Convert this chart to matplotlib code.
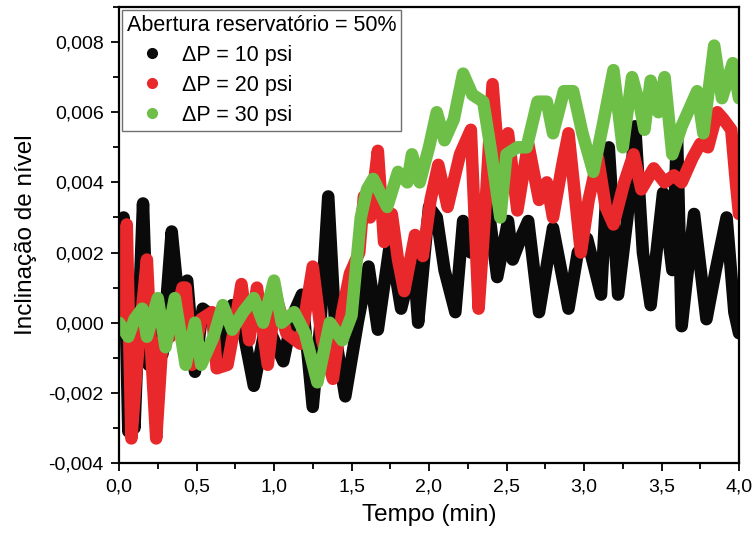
import matplotlib
matplotlib.use("Agg")
import matplotlib.pyplot as plt
from matplotlib.lines import Line2D
from matplotlib.ticker import MultipleLocator, FixedLocator, FixedFormatter

plt.rcParams['font.family'] = ['Liberation Sans', 'DejaVu Sans']

# ---- data -------------------------------------------------------------
t_10 = [0.00, 0.03, 0.06, 0.08, 0.10, 0.155, 0.19, 0.24, 0.28, 0.34, 0.38, 0.44,
        0.49, 0.54, 0.60, 0.64, 0.73, 0.80, 0.87, 0.95, 1.00, 1.06, 1.12, 1.18,
        1.25, 1.30, 1.35, 1.40, 1.46, 1.54, 1.61, 1.67, 1.75, 1.82, 1.90, 1.93,
        2.00, 2.05, 2.10, 2.17, 2.22, 2.27, 2.33, 2.38, 2.44, 2.51, 2.54, 2.60,
        2.64, 2.71, 2.80, 2.90, 2.96, 3.02, 3.11, 3.16, 3.22, 3.28, 3.33, 3.38,
        3.43, 3.51, 3.57, 3.60, 3.63, 3.71, 3.79, 3.85, 3.92, 3.97, 4.00]
v_10 = [0.0000, 0.0030, -0.0031, 0.0010, -0.0030, 0.0034, -0.0012, 0.0002, -0.0009, 0.0026, 0.0008, 0.0012,
        -0.0014, 0.0004, 0.0002, -0.0010, 0.0005, -0.0002, -0.0018, 0.0000, -0.0005, -0.0011, 0.0002, 0.0008,
        -0.0024, 0.0000, 0.0036, -0.0005, -0.0021, 0.0000, 0.0016, -0.0002, 0.0023, 0.0004, 0.0018, 0.0000,
        0.0033, 0.0030, 0.0015, 0.0003, 0.0029, 0.0020, 0.0028, 0.0034, 0.0013, 0.0029, 0.0018, 0.0025,
        0.0029, 0.0003, 0.0027, 0.0004, 0.0020, 0.0024, 0.0008, 0.0050, 0.0008, 0.0030, 0.0056, 0.0020,
        0.0005, 0.0037, 0.0015, 0.0054, -0.0001, 0.0031, 0.0001, 0.0015, 0.0030, 0.0003, -0.0003]

t_20 = [0.00, 0.02, 0.05, 0.08, 0.11, 0.14, 0.18, 0.21, 0.24, 0.28, 0.33, 0.41,
        0.43, 0.47, 0.53, 0.60, 0.63, 0.70, 0.75, 0.79, 0.84, 0.89, 0.96, 1.01,
        1.08, 1.17, 1.25, 1.31, 1.38, 1.44, 1.49, 1.55, 1.58, 1.62, 1.67, 1.71,
        1.76, 1.80, 1.84, 1.91, 1.96, 2.01, 2.06, 2.12, 2.20, 2.27, 2.32, 2.36,
        2.41, 2.46, 2.51, 2.57, 2.64, 2.71, 2.76, 2.80, 2.86, 2.90, 2.98, 3.03,
        3.09, 3.14, 3.19, 3.26, 3.32, 3.37, 3.45, 3.52, 3.58, 3.63, 3.70, 3.75,
        3.80, 3.86, 3.90, 3.95, 3.98, 4.00]
v_20 = [0.0000, 0.0005, 0.0028, -0.0033, -0.0015, 0.0000, 0.0018, -0.0010, -0.0033, -0.0005, -0.0004, 0.0010,
        0.0010, -0.0012, 0.0001, 0.0003, -0.0013, -0.0012, 0.0000, 0.0011, -0.0005, 0.0010, -0.0012, 0.0008,
        -0.0003, -0.0006, 0.0016, -0.0005, -0.0016, 0.0003, 0.0014, 0.0020, 0.0036, 0.0030, 0.0049, 0.0023,
        0.0031, 0.0018, 0.0009, 0.0025, 0.0019, 0.0035, 0.0045, 0.0033, 0.0048, 0.0055, 0.0004, 0.0030,
        0.0068, 0.0040, 0.0054, 0.0032, 0.0051, 0.0035, 0.0040, 0.0030, 0.0045, 0.0054, 0.0020, 0.0035,
        0.0047, 0.0033, 0.0028, 0.0040, 0.0048, 0.0038, 0.0044, 0.0040, 0.0042, 0.0040, 0.0047, 0.0051,
        0.0050, 0.0060, 0.0058, 0.0055, 0.0040, 0.0031]

t_30 = [0.00, 0.06, 0.10, 0.15, 0.18, 0.25, 0.30, 0.36, 0.43, 0.49, 0.53, 0.61,
        0.67, 0.73, 0.80, 0.87, 0.93, 1.00, 1.05, 1.13, 1.20, 1.28, 1.36, 1.44,
        1.50, 1.56, 1.60, 1.64, 1.73, 1.80, 1.86, 1.89, 1.94, 2.00, 2.05, 2.10,
        2.16, 2.22, 2.28, 2.35, 2.40, 2.46, 2.50, 2.57, 2.63, 2.70, 2.76, 2.80,
        2.87, 2.93, 2.99, 3.06, 3.12, 3.19, 3.25, 3.31, 3.36, 3.39, 3.43, 3.48,
        3.52, 3.57, 3.63, 3.73, 3.77, 3.84, 3.89, 3.96, 4.00]
v_30 = [0.0000, -0.0004, 0.0001, 0.0004, -0.0004, 0.0007, -0.0007, 0.0007, -0.0012, 0.0000, -0.0012, -0.0004,
        0.0005, -0.0002, 0.0003, 0.0007, 0.0000, 0.0012, 0.0000, 0.0003, -0.0003, -0.0017, 0.0000, -0.0005,
        0.0002, 0.0030, 0.0038, 0.0041, 0.0033, 0.0043, 0.0040, 0.0048, 0.0040, 0.0050, 0.0060, 0.0052,
        0.0058, 0.0071, 0.0065, 0.0063, 0.0049, 0.0030, 0.0048, 0.0050, 0.0050, 0.0063, 0.0063, 0.0054,
        0.0066, 0.0066, 0.0054, 0.0043, 0.0056, 0.0072, 0.0050, 0.0070, 0.0062, 0.0055, 0.0069, 0.0060,
        0.0070, 0.0048, 0.0056, 0.0066, 0.0054, 0.0079, 0.0064, 0.0074, 0.0064]

series_labels = ['ΔP = 10 psi', 'ΔP = 20 psi', 'ΔP = 30 psi']
legend_title = 'Abertura reservatório = 50%'

x_ticks = [0.0, 0.5, 1.0, 1.5, 2.0, 2.5, 3.0, 3.5, 4.0]
x_tick_labels = ['0,0', '0,5', '1,0', '1,5', '2,0', '2,5', '3,0', '3,5', '4,0']
y_ticks = [-0.004, -0.002, 0.000, 0.002, 0.004, 0.006, 0.008]
y_tick_labels = ['-0,004', '-0,002', '0,000', '0,002', '0,004', '0,006', '0,008']

# ---- styling ----------------------------------------------------------
colors = ['#0a0a0a', '#e8282b', '#6dbf47']

fig = plt.figure(figsize=(7.54, 5.40), dpi=100)
ax = fig.add_axes([119 / 754, 1 - 463 / 540, (739 - 119) / 754, (463 - 7) / 540])

for t, v, c in zip([t_10, t_20, t_30], [v_10, v_20, v_30], colors):
    ax.plot(t, v, color=c, lw=9, solid_joinstyle='round', solid_capstyle='round')

ax.set_xlim(0, 4.0)
ax.set_ylim(-0.004, 0.009)

ax.xaxis.set_major_locator(FixedLocator(x_ticks))
ax.xaxis.set_major_formatter(FixedFormatter(x_tick_labels))
ax.xaxis.set_minor_locator(MultipleLocator(0.25))
ax.yaxis.set_major_locator(FixedLocator(y_ticks))
ax.yaxis.set_major_formatter(FixedFormatter(y_tick_labels))
ax.yaxis.set_minor_locator(MultipleLocator(0.001))

ax.tick_params(which='both', direction='out', width=1.3, labelsize=14, pad=5,
               top=False, right=False)
ax.tick_params(which='major', length=6)
ax.tick_params(which='minor', length=4)
for s in ax.spines.values():
    s.set_linewidth(1.6)

ax.set_xlabel('Tempo (min)', fontsize=17.5, labelpad=6)
ax.set_ylabel('Inclinação de nível', fontsize=17.5, labelpad=8)

handles = [Line2D([], [], ls='none', marker='o', markersize=7, color=c) for c in colors]
leg = ax.legend(handles, series_labels, title=legend_title, loc='upper left',
                bbox_to_anchor=(122 / 754, 1 - 10 / 540), bbox_transform=fig.transFigure,
                borderaxespad=0, fontsize=15.5, title_fontsize=15.5, alignment='left',
                fancybox=False, framealpha=1, edgecolor='#707070', borderpad=0.22,
                handlelength=2.35, handletextpad=0.2, labelspacing=0.42)
leg.get_frame().set_linewidth(1.0)

fig.savefig('out.png', dpi=100)
